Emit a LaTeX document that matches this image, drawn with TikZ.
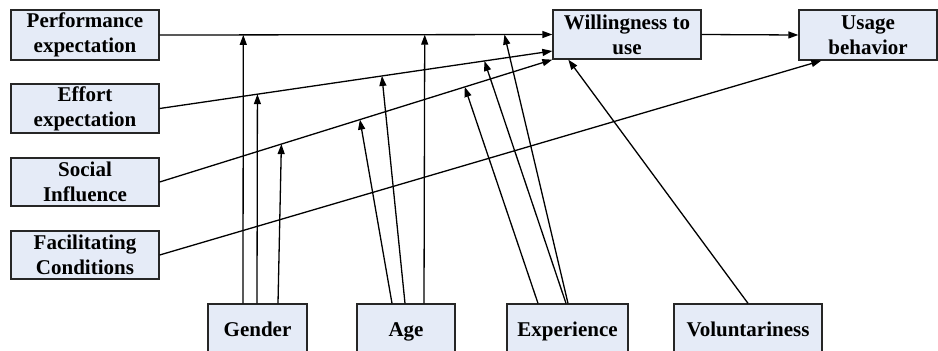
\documentclass[tikz,border=0pt]{standalone}
\usepackage{fontspec}
\setmainfont{Liberation Serif}
\usetikzlibrary{arrows.meta}
\definecolor{boxfill}{RGB}{229,235,247}
\tikzset{
  box/.style={draw=black!85, fill=boxfill, line width=1.3pt, align=center,
    inner sep=0pt, font=\fontsize{21}{25}\selectfont\bfseries},
  onebox/.style={box, text height=18pt, text depth=2pt, minimum height=48pt},
  link/.style={line width=1.3pt, -{Triangle[length=10pt,width=7pt]}}
}
\begin{document}
\begin{tikzpicture}[x=1pt,y=-1pt]
  \clip (0,0) rectangle (938,351);
  \fill[white] (0,0) rectangle (938,351);

  \node[box, minimum width=148pt, minimum height=50pt] (perf) at (85,35) {Performance\\expectation};
  \node[box, minimum width=148pt, minimum height=49pt] (effort) at (85,108.5) {Effort\\expectation};
  \node[box, minimum width=148pt, minimum height=48pt] (social) at (85,182) {Social\\Influence};
  \node[box, minimum width=148pt, minimum height=48pt] (facil) at (85,255) {Facilitating\\Conditions};
  \node[box, minimum width=148pt, minimum height=49pt] (will) at (627,34.5) {Willingness to\\use};
  \node[box, minimum width=138pt, minimum height=50pt] (usage) at (868,35) {Usage\\behavior};

  \node[onebox, minimum width=99pt] (gender) at (257.5,328) {Gender};
  \node[onebox, minimum width=98pt] (age) at (406,328) {Age};
  \node[onebox, minimum width=121pt] (exper) at (567.5,328) {Experience};
  \node[onebox, minimum width=148pt] (volun) at (748,328) {Voluntariness};

  \draw[link] (perf.east) -- coordinate[pos=0.213] (pg) coordinate[pos=0.675] (pa)
    coordinate[pos=0.878] (pe) (will.west);
  \draw[link] (effort.east) -- coordinate[pos=0.249] (eg) coordinate[pos=0.566] (ea)
    coordinate[pos=0.827] (ee) ([yshift=-16.5pt]will.west);
  \draw[link] (social.east) -- coordinate[pos=0.310] (sg) coordinate[pos=0.510] (sa)
    coordinate[pos=0.777] (se) (will.south west);
  \draw[link] (facil.east) -- ([xshift=23pt]usage.south west);
  \draw[link] (will.east) -- (usage.west);
  \draw[link] (volun.north) -- ([xshift=16pt]will.south west);

  \draw[link] ([xshift=-14.5pt]gender.north) -- (pg);
  \draw[link] ([xshift=-0.5pt]gender.north) -- (eg);
  \draw[link] ([xshift=20.5pt]gender.north) -- (sg);

  \draw[link] ([xshift=18pt]age.north) -- (pa);
  \draw[link] ([xshift=-1pt]age.north) -- (ea);
  \draw[link] ([xshift=-14pt]age.north) -- (sa);

  \draw[link] ([xshift=0.5pt]exper.north) -- (pe);
  \draw[link] ([xshift=-1.5pt]exper.north) -- (ee);
  \draw[link] ([xshift=-29.5pt]exper.north) -- (se);
\end{tikzpicture}
\end{document}
